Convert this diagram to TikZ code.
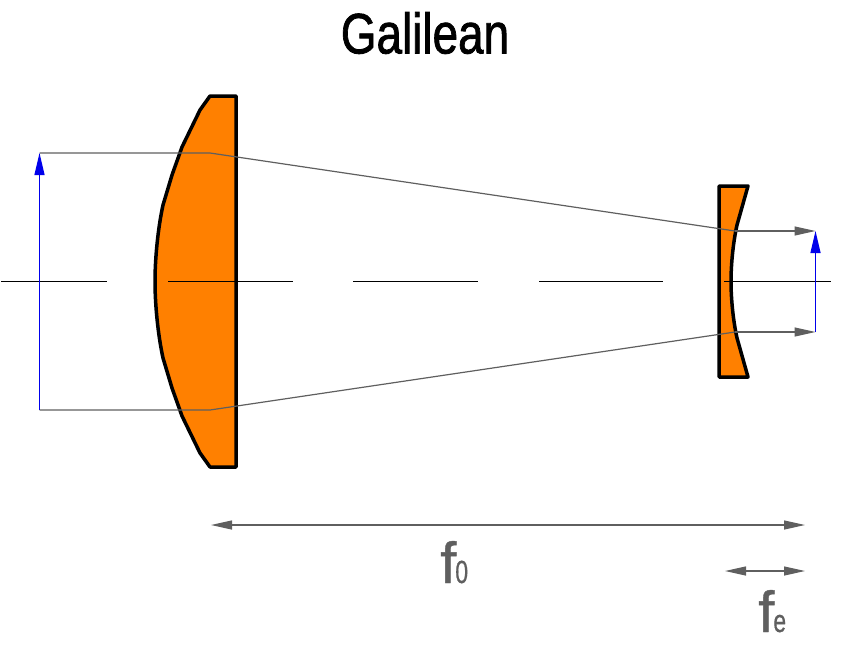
\documentclass[tikz,border=0pt]{standalone}
\usepackage{fontspec}
\setmainfont{Liberation Sans}
\newfontfamily\heavyfont[FakeBold=1.5]{Liberation Sans}
\newfontfamily\midfont[FakeBold=0.7]{Liberation Sans}
\usetikzlibrary{arrows.meta}
\definecolor{lensorange}{RGB}{255,128,0}
\definecolor{raygray}{RGB}{95,95,95}
\definecolor{axisblue}{RGB}{0,0,235}
\newcommand{\foclabel}[1]{\midfont\fontsize{58}{60}\selectfont f\kern-1pt\scalebox{0.72}[1]{\fontsize{32}{34}\selectfont #1}}
\tikzset{
	lens/.style={draw=black,line width=3.5pt,fill=lensorange,line join=round},
	axisline/.style={black,line width=1.1pt},
	ray/.style={raygray,line width=1.2pt},
	rayarrow/.style={ray,-{Triangle[length=21pt,width=9pt]}},
	height/.style={axisblue,line width=1.2pt,-{Triangle[length=22pt,width=10pt]}},
	focal/.style={ray,{Triangle[length=21pt,width=9pt]}-{Triangle[length=21pt,width=9pt]}},
	focaltext/.style={raygray,inner sep=0pt,anchor=base west}
}
\begin{document}
\begin{tikzpicture}[x=1pt,y=-1pt]
	\useasboundingbox (0,0) rectangle (842,645);

	\node[inner sep=0pt] (title) at (425,33) {\scalebox{0.805}[1]{\heavyfont\fontsize{57}{60}\selectfont Galilean}};

	% lenses
	\draw[lens] (210,96) -- (236,96) -- (236,467) -- (210,467)
		-- (200,453) -- (182,416) -- (172,388) -- (163,358)
		.. controls (158,335) and (155,305) .. (155,281.5)
		.. controls (155,258) and (158,228) .. (163,205)
		-- (172,175) -- (182,147) -- (200,110) -- cycle;
	\draw[lens] (719,186) -- (748,186) -- (737,225)
		.. controls (733,243) and (731,265) .. (731,281.5)
		.. controls (731,298) and (733,320) .. (737,338)
		-- (748,377) -- (719,377) -- cycle;

	% optical axis
	\foreach \xa/\xb in {1/107,168/293,353/478,539/663,724/831}
		\draw[axisline] (\xa,281.5) -- (\xb,281.5);

	\coordinate (tl) at (39.5,153);
	\coordinate (bl) at (39.5,410);
	\coordinate (tm) at (210,153);
	\coordinate (bm) at (210,410);
	\coordinate (te) at (735,231);
	\coordinate (be) at (735,332);
	\coordinate (tr) at (815.5,231);
	\coordinate (br) at (815.5,332);

	% rays
	\draw[ray] (tl) -- (tm) -- (te);
	\draw[ray] (bl) -- (bm) -- (be);
	\draw[rayarrow] (te) -- (tr);
	\draw[rayarrow] (be) -- (br);
	\draw[height] (bl) -- (tl);
	\draw[height] (br) -- (tr);

	% focal lengths
	\coordinate (foa) at (211,525);
	\coordinate (fob) at (805,525);
	\coordinate (fea) at (725,571);
	\coordinate (feb) at (805,571);
	\draw[focal] (foa) -- (fob);
	\draw[focal] (fea) -- (feb);
	\node[focaltext] (fo) at (440,583) {\foclabel{0}};
	\node[focaltext] (fe) at (758,632) {\foclabel{e}};
\end{tikzpicture}
\end{document}
